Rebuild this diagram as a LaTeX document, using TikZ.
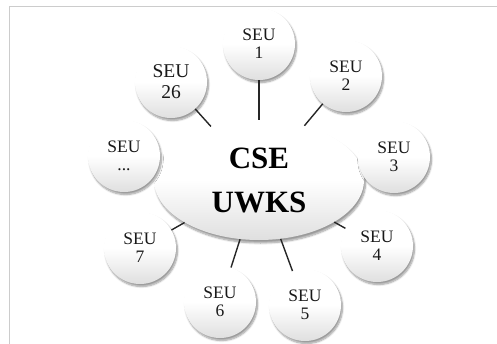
\documentclass[tikz,border=0pt]{standalone}
\usepackage{fontspec}
\setmainfont{Liberation Serif}
\usetikzlibrary{shadows.blur,shapes.geometric}
\begin{document}
\begin{tikzpicture}[x=1pt,y=-1pt,
  seu/.style={circle, minimum size=72pt, inner sep=0pt, align=center,
    top color=white, bottom color=gray!25, middle color=white,
    blur shadow={shadow xshift=1.5pt, shadow yshift=-2.5pt, shadow opacity=40, shadow blur steps=8},
    font=\fontsize{17.5}{18}\selectfont, text=black!90},
  hub/.style={ellipse, minimum width=210pt, minimum height=120pt, inner sep=0pt, align=center,
    top color=white, bottom color=gray!25, middle color=white,
    blur shadow={shadow xshift=1.5pt, shadow yshift=-3pt, shadow opacity=40, shadow blur steps=8},
    font=\fontsize{31}{44}\selectfont\bfseries},
  link/.style={line width=1.4pt, black!85}]
\useasboundingbox (0,0) rectangle (497,343);
\draw[gray!40, line width=0.8pt] (9,6) rectangle (505,350);
\node[hub] (e) at (259,180) {CSE\\UWKS};
\node[seu] (s1) at (259,44) {SEU\\1};
\node[seu, font=\fontsize{19.5}{21}\selectfont] (s26) at (171,82) {SEU\\26};
\node[seu] (s2) at (346,76) {SEU\\2};
\node[seu] (sd) at (124,156) {SEU\\...};
\node[seu] (s3) at (394,157) {SEU\\3};
\node[seu] (s7) at (140,248) {SEU\\7};
\node[seu] (s4) at (377,246) {SEU\\4};
\node[seu] (s6) at (220,302) {SEU\\6};
\node[seu] (s5) at (305,305) {SEU\\5};
\draw[link] (s1) -- (e);
\draw[link] (s26) -- (e);
\draw[link] (s2) -- (e);
\draw[link] (s7) -- (e);
\draw[link] (s4) -- (e);
\draw[link] (s6) -- (e);
\draw[link] (s5) -- (e);
\end{tikzpicture}
\end{document}
